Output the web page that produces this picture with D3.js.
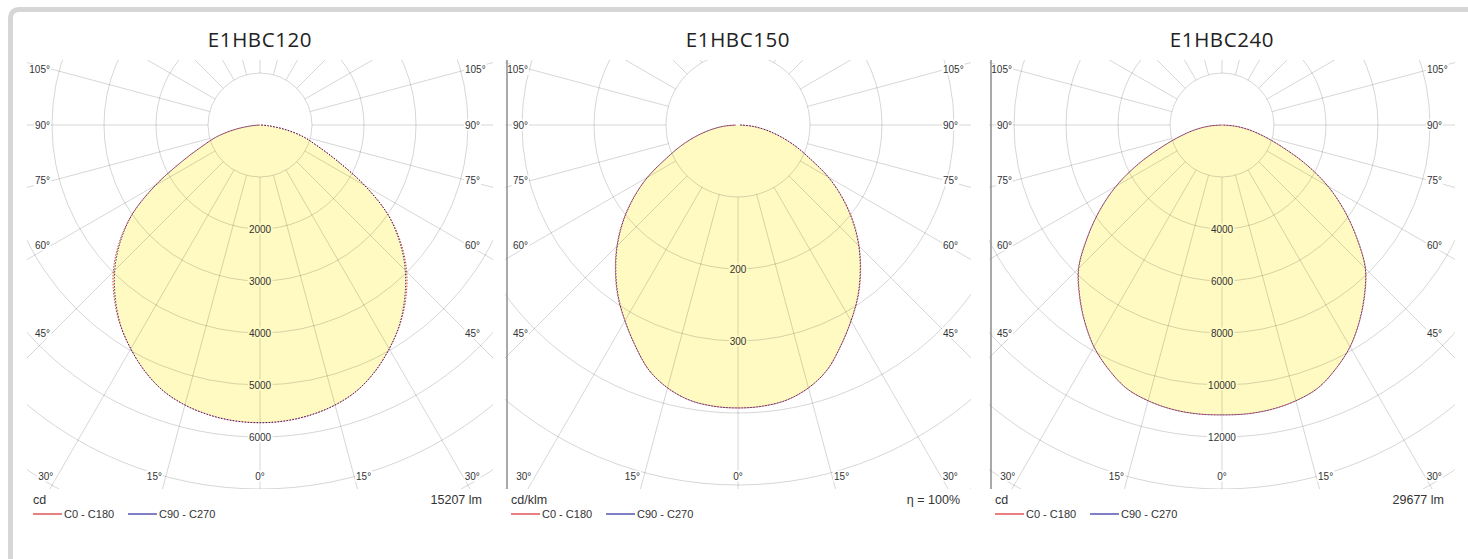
<!DOCTYPE html>
<html>
<head>
<meta charset="utf-8">
<script src="https://cdn.jsdelivr.net/npm/d3@7/dist/d3.min.js"></script>
<style>
  html, body { margin: 0; padding: 0; background: #fff; }
  svg { display: block; }
  .tick { font-family: "Liberation Sans", Arial, sans-serif; font-size: 10px; fill: #333; }
  .note { font-family: "Liberation Sans", Arial, sans-serif; font-size: 12.5px; fill: #333; }
  .legend { font-family: "Liberation Sans", Arial, sans-serif; font-size: 11px; fill: #333; }
  .title { font-family: "Open Sans", sans-serif; font-size: 20.5px; letter-spacing: 0.6px; fill: #222; }
</style>
</head>
<body>
<svg id="chart" width="1468" height="559"></svg>
<script>
// luminaires shown side by side
const titles = ["E1HBC120", "E1HBC150", "E1HBC240"];
const units = ["cd", "cd/klm", "cd"];
const footnotes = ["15207 lm", "\u03b7 = 100%", "29677 lm"];
const legendLabels = ["C0 - C180", "C90 - C270"];

// gamma angles (deg, 0 = straight down) of the intensity readings
const gammas = [0, 5, 10, 15, 20, 25, 30, 35, 40, 45, 50, 55, 60, 65, 70, 75, 80, 85, 90];

// E1HBC120, cd
const c0E120 = [5725, 5710, 5660, 5575, 5440, 5230, 4970, 4690, 4360, 3990, 3540, 3010, 2330, 1650, 1170, 850, 480, 150, 0];
const c90E120 = [5725, 5710, 5660, 5575, 5440, 5230, 4970, 4680, 4330, 3950, 3510, 3000, 2320, 1650, 1170, 850, 480, 150, 0];
// E1HBC150, cd/klm
const c0E150 = [393, 392, 388, 378, 362, 338, 314, 291, 265, 238, 209, 178, 145, 110, 84, 60, 39, 20, 3];
const c90E150 = [393, 392, 388, 378, 362, 338, 314, 290, 264, 237, 208, 177, 145, 110, 84, 60, 39, 20, 3];
// E1HBC240, cd
const c0E240 = [11150, 11150, 11100, 10980, 10770, 10350, 9850, 9220, 8540, 7810, 6780, 5750, 4700, 3550, 2450, 1650, 1050, 500, 0];
const c90E240 = [11150, 11150, 11100, 10980, 10770, 10350, 9850, 9210, 8520, 7790, 6770, 5750, 4700, 3550, 2450, 1650, 1050, 500, 0];

// grid rings and their labels
const ringSteps = [1000, 100, 2000];
const ringLabelsE120 = [2000, 3000, 4000, 5000, 6000];
const ringLabelsE150 = [200, 300];
const ringLabelsE240 = [4000, 6000, 8000, 10000, 12000];
const angleTicks = [0, 15, 30, 45, 60, 75, 90, 105, 120, 135, 150, 165, 180];

const panels = [
  { c0: c0E120, c90: c90E120, labels: ringLabelsE120 },
  { c0: c0E150, c90: c90E150, labels: ringLabelsE150 },
  { c0: c0E240, c90: c90E240, labels: ringLabelsE240 }
];

// layout
const centersX = [260, 738, 1222];
const cy = 125;
const ringPx = [52, 72, 52];
const axisLine = [false, true, true];
const fillColor = "#fffac2";
const gridColor = "rgba(0,0,0,0.16)";
const red = "#d40000";
const blue = "#00008c";

const svg = d3.select("#chart");
const defs = svg.append("defs");

// outer frame
svg.append("rect")
  .attr("x", 10.5).attr("y", 9.5)
  .attr("width", 1500).attr("height", 600)
  .attr("rx", 8)
  .attr("fill", "none")
  .attr("stroke", "#d6d6d6")
  .attr("stroke-width", 5);

const rad = d => d * Math.PI / 180;

panels.forEach((p, i) => {
  const cx = centersX[i];
  const step = ringSteps[i];
  const r = d3.scaleLinear().domain([0, step]).range([0, ringPx[i]]);

  const g = svg.append("g");

  g.append("text")
    .attr("class", "title")
    .attr("x", cx).attr("y", 47)
    .attr("text-anchor", "middle")
    .text(titles[i]);

  defs.append("clipPath").attr("id", "clip" + i)
    .append("rect")
    .attr("x", -233).attr("y", -65)
    .attr("width", 466).attr("height", 429);

  const plot = g.append("g")
    .attr("transform", `translate(${cx},${cy})`)
    .attr("clip-path", `url(#clip${i})`);

  // one plane: right half from the values, left half mirrored
  const plane = vals => {
    const right = gammas.map((a, k) => ({ a: a, v: vals[k] }));
    const left = right.slice(1).map(d => ({ a: -d.a, v: d.v }));
    return left.concat(right).sort((a, b) => a.a - b.a);
  };
  const line = d3.lineRadial()
    .angle(d => Math.PI - rad(d.a))
    .radius(d => r(d.v))
    .curve(d3.curveCatmullRom);

  const p0 = plane(p.c0);
  const p90 = plane(p.c90);

  // light distribution fill
  [p0, p90].forEach(pts => {
    plot.append("path")
      .attr("d", line(pts) + "Z")
      .attr("fill", fillColor)
      .attr("stroke", "none");
  });

  // rings
  plot.selectAll(".ring")
    .data(d3.range(1, 12).map(k => k * step))
    .join("circle")
    .attr("class", "ring")
    .attr("r", d => r(d))
    .attr("fill", "none")
    .attr("stroke", gridColor)
    .attr("stroke-width", 1);

  // radial lines, starting at the first ring
  const spokes = [];
  angleTicks.forEach(a => {
    spokes.push(a);
    if (a !== 0 && a !== 180) spokes.push(-a);
  });
  plot.selectAll(".spoke")
    .data(spokes)
    .join("line")
    .attr("class", "spoke")
    .attr("x1", d => r(step) * Math.sin(rad(d)))
    .attr("y1", d => r(step) * Math.cos(rad(d)))
    .attr("x2", d => 900 * Math.sin(rad(d)))
    .attr("y2", d => 900 * Math.cos(rad(d)))
    .attr("stroke", gridColor)
    .attr("stroke-width", 1);

  // outlines, dotted so both planes show
  [[p0, red, 0], [p90, blue, 1.5]].forEach(([pts, col, off]) => {
    plot.append("path")
      .attr("d", line(pts))
      .attr("fill", "none")
      .attr("stroke", col)
      .attr("stroke-width", 1)
      .attr("stroke-dasharray", "1.5,1.5")
      .attr("stroke-dashoffset", off)
      .attr("opacity", 0.75);
  });

  const labels = g.append("g").attr("transform", `translate(${cx},${cy})`);

  // ring value labels on the 0 deg line
  p.labels.forEach(v => {
    const t = labels.append("text")
      .attr("class", "tick")
      .attr("x", 0).attr("y", r(v))
      .attr("text-anchor", "middle")
      .attr("dominant-baseline", "central")
      .text(v);
    const bb = t.node().getBBox();
    labels.insert("rect", "text")
      .attr("x", bb.x - 1).attr("y", bb.y)
      .attr("width", bb.width + 2).attr("height", bb.height)
      .attr("fill", v < p.c0[0] ? fillColor : "#fff");
  });

  // angle labels where the spokes meet the label box
  spokes.forEach(a => {
    const s = Math.sin(rad(a)), c = Math.cos(rad(a));
    const tSide = Math.abs(s) > 1e-6 ? 208 / Math.abs(s) : Infinity;
    const tBot = c > 1e-6 ? 351 / c : Infinity;
    const t = Math.min(tSide, tBot);
    const px = t * s, py = t * c;
    if (py < -60) return;
    let x = px, anchor = "middle";
    if (tBot < tSide) {
      if (a < 0) { x = px - 4; anchor = "end"; }
      else if (a > 0) { x = px + 2; anchor = "start"; }
    } else {
      if (a < 0) { x = px - 2; anchor = "end"; }
      else { x = px - 3; anchor = "start"; }
    }
    const txt = labels.append("text")
      .attr("class", "tick")
      .attr("x", x).attr("y", py)
      .attr("text-anchor", anchor)
      .attr("dominant-baseline", "central")
      .text(Math.abs(a) + "\u00b0");
    const bb = txt.node().getBBox();
    labels.insert("rect", "text")
      .attr("x", bb.x - 1).attr("y", bb.y)
      .attr("width", bb.width + 2).attr("height", bb.height)
      .attr("fill", "#fff");
  });

  if (axisLine[i]) {
    g.append("line")
      .attr("x1", cx - 231).attr("x2", cx - 231)
      .attr("y1", 60).attr("y2", 489)
      .attr("stroke", "#8c8c8c")
      .attr("stroke-width", 1.5);
  }

  // unit and total flux
  g.append("text").attr("class", "note")
    .attr("x", cx - 227).attr("y", 504)
    .text(units[i]);
  g.append("text").attr("class", "note")
    .attr("x", cx + 222).attr("y", 504)
    .attr("text-anchor", "end")
    .text(footnotes[i]);

  // legend
  [[red, -227], [blue, -132]].forEach(([col, dx], k) => {
    g.append("line")
      .attr("x1", cx + dx).attr("x2", cx + dx + 29)
      .attr("y1", 514).attr("y2", 514)
      .attr("stroke", col).attr("stroke-width", 1);
    g.append("text").attr("class", "legend")
      .attr("x", cx + dx + 31).attr("y", 518)
      .text(legendLabels[k]);
  });
});
</script>
</body>
</html>
